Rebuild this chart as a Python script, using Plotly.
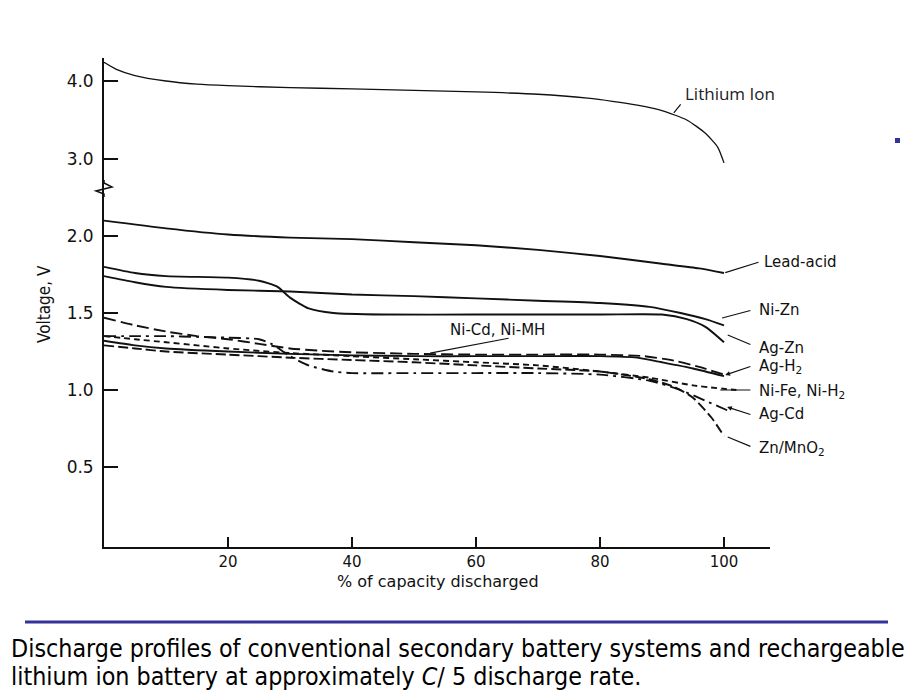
import plotly.graph_objects as go

# ---------------- data ----------------
pct_li = [0, 2, 5, 10, 15, 20, 30, 40, 50, 60, 70, 78, 82, 86, 90, 94, 97, 99, 100]
v_li = [4.24, 4.15, 4.07, 4.00, 3.96, 3.94, 3.915, 3.90, 3.88, 3.86, 3.83, 3.78, 3.74, 3.69, 3.62, 3.50, 3.33, 3.15, 2.95]

pct_pb = [0, 10, 20, 30, 40, 50, 60, 70, 80, 90, 96, 100]
v_pb = [2.10, 2.05, 2.01, 1.99, 1.98, 1.96, 1.94, 1.91, 1.87, 1.82, 1.79, 1.76]

pct_nizn = [0, 5, 10, 20, 30, 40, 50, 60, 70, 80, 88, 93, 97, 100]
v_nizn = [1.74, 1.70, 1.67, 1.65, 1.64, 1.62, 1.61, 1.595, 1.58, 1.565, 1.54, 1.50, 1.46, 1.42]

pct_agzn = [0, 5, 10, 20, 25, 28, 30, 33, 37, 45, 60, 80, 90, 94, 97, 100]
v_agzn = [1.80, 1.76, 1.74, 1.73, 1.71, 1.67, 1.60, 1.53, 1.50, 1.49, 1.49, 1.49, 1.49, 1.46, 1.41, 1.31]

pct_nicd = [0, 5, 10, 20, 30, 40, 50, 60, 70, 80, 86, 90, 95, 100]
v_nicd = [1.32, 1.29, 1.27, 1.25, 1.235, 1.225, 1.22, 1.22, 1.22, 1.22, 1.21, 1.18, 1.14, 1.09]

pct_agh2 = [0, 5, 10, 15, 20, 25, 30, 35, 40, 50, 60, 70, 80, 87, 92, 96, 100]
v_agh2 = [1.47, 1.42, 1.38, 1.35, 1.33, 1.30, 1.27, 1.255, 1.245, 1.235, 1.23, 1.23, 1.23, 1.22, 1.19, 1.15, 1.10]

pct_nife = [0, 5, 10, 15, 20, 30, 40, 50, 60, 70, 80, 88, 95, 102]
v_nife = [1.35, 1.33, 1.31, 1.29, 1.27, 1.24, 1.22, 1.20, 1.18, 1.16, 1.12, 1.08, 1.03, 1.00]

pct_agcd = [0, 5, 10, 15, 20, 25, 27, 30, 33, 37, 40, 50, 60, 70, 80, 88, 93, 97, 101]
v_agcd = [1.35, 1.35, 1.35, 1.345, 1.34, 1.33, 1.30, 1.22, 1.16, 1.12, 1.11, 1.11, 1.11, 1.11, 1.10, 1.06, 1.00, 0.93, 0.86]

pct_zn = [0, 5, 10, 20, 30, 40, 50, 60, 70, 80, 88, 92, 95, 98, 100]
v_zn = [1.29, 1.27, 1.25, 1.23, 1.21, 1.195, 1.18, 1.16, 1.14, 1.12, 1.07, 1.02, 0.95, 0.82, 0.70]

x_ticks = [20, 40, 60, 80, 100]
y_low_ticks = [0.5, 1.0, 1.5, 2.0]
y_high_ticks = [3.0, 4.0]

# ---------------- geometry helpers ----------------
W, H = 920, 690
OFF = 8  # page body margin of the browser
L, R, T, B = 104, 770, 58, 547   # plot area in screen pixels


def px(xp):
    return (xp - L) / (R - L)


def py(yp):
    return (B - yp) / (B - T)


split = py(186)

fig = go.Figure()

line_c = "#111111"
fig.add_trace(go.Scatter(x=pct_li, y=v_li, yaxis="y2", mode="lines",
                         line=dict(color=line_c, width=1.3, shape="spline", smoothing=0.6)))
series = [
    (pct_pb, v_pb, "solid"),
    (pct_nizn, v_nizn, "solid"),
    (pct_agzn, v_agzn, "solid"),
    (pct_nicd, v_nicd, "solid"),
    (pct_agh2, v_agh2, "12px,5px"),
    (pct_nife, v_nife, "6px,4px"),
    (pct_agcd, v_agcd, "12px,5px,3px,5px"),
    (pct_zn, v_zn, "10px,4px"),
]
for xs, ys, d in series:
    fig.add_trace(go.Scatter(x=xs, y=ys, mode="lines",
                             line=dict(color=line_c, width=1.9, dash=d, shape="spline", smoothing=0.6)))

ytick_font = dict(family="DejaVu Sans", size=17, color="#111111")
xtick_font = dict(family="DejaVu Sans", size=15, color="#111111")
lab_font = dict(family="DejaVu Sans", size=15, color="#111111")

fig.update_layout(
    width=W, height=H,
    margin=dict(l=L - OFF, r=W - (R - OFF), t=T - OFF, b=H - (B - OFF), autoexpand=False),
    paper_bgcolor="white", plot_bgcolor="white",
    showlegend=False,
    xaxis=dict(range=[0, (R - L) / 6.2], tickvals=x_ticks, ticks="inside", ticklen=10,
               tickwidth=1.5, tickcolor="#111", showline=True, linecolor="#111", linewidth=1.8,
               showgrid=False, zeroline=False, tickfont=xtick_font, ticklabelstandoff=0),
    yaxis=dict(domain=[0, split], range=[-0.0195, 2.325], tickvals=y_low_ticks,
               ticktext=["0.5", "1.0", "1.5", "2.0"], ticks="inside", ticklen=14, tickwidth=1.5,
               tickcolor="#111", showline=True, linecolor="#111", linewidth=1.8, showgrid=False,
               zeroline=False, tickfont=ytick_font, ticklabelstandoff=5),
    yaxis2=dict(domain=[split, 1], range=[2.654, 4.295], tickvals=y_high_ticks,
                ticktext=["3.0", "4.0"], ticks="inside", ticklen=14, tickwidth=1.5,
                tickcolor="#111", showline=True, linecolor="#111", linewidth=1.8, showgrid=False,
                zeroline=False, tickfont=ytick_font, anchor="x", ticklabelstandoff=5),
)

# leader lines (tip -> tail), data coords
leaders = [
    ("y2", 91.9, 3.59, 93.2, 3.72, 0),
    ("y", 100.2, 1.762, 105.8, 1.833, 0),
    ("y", 99.7, 1.468, 104.5, 1.519, 0),
    ("y", 100.6, 1.357, 104.5, 1.292, 0),
    ("y", 100.2, 1.097, 104.5, 1.156, 2),
    ("y", 99.4, 1.0, 104.5, 1.0, 0),
    ("y", 100.5, 0.89, 104.5, 0.838, 2),
    ("y", 100.6, 0.695, 104.5, 0.63, 0),
    ("y", 52.6, 1.24, 65.5, 1.338, 0),
]
for yr, x0, y0, x1, y1, head in leaders:
    fig.add_annotation(x=x0, y=y0, ax=x1, ay=y1, xref="x", yref=yr, axref="x", ayref=yr,
                       text="", showarrow=True, arrowhead=head, arrowsize=0.8, arrowwidth=1.2,
                       arrowcolor="#111", standoff=0, startstandoff=0)

labels = [
    ("y2", 93.4, 3.846, "Lithium Ion", "left", dict(family="Open Sans", size=17, color="#222")),
    ("y", 106.1, 1.831, "Lead-acid", "left", lab_font),
    ("y", 105.3, 1.519, "Ni-Zn", "left", lab_font),
    ("y", 105.3, 1.275, "Ag-Zn", "left", lab_font),
    ("y", 105.3, 1.150, "Ag-H<sub>2</sub>", "left", lab_font),
    ("y", 105.3, 0.989, "Ni-Fe, Ni-H<sub>2</sub>", "left", lab_font),
    ("y", 105.3, 0.844, "Ag-Cd", "left", lab_font),
    ("y", 105.3, 0.623, "Zn/MnO<sub>2</sub>", "left", lab_font),
    ("y", 63.5, 1.39, "Ni-Cd, Ni-MH", "center", lab_font),
]
for yr, x, y, t, anc, f in labels:
    fig.add_annotation(x=x, y=y, xref="x", yref=yr, text=t, showarrow=False,
                       xanchor=anc, yanchor="middle", font=f)

# axis titles
fig.add_annotation(x=px(438), y=py(581), xref="paper", yref="paper", text="% of capacity discharged",
                   showarrow=False, xanchor="center", yanchor="middle",
                   font=dict(family="DejaVu Sans", size=16, color="#111"))
fig.add_annotation(x=px(32), y=py(304), xref="paper", yref="paper", text="Voltage, V",
                   textangle=-90, showarrow=False,
                   font=dict(family="DejaVu Sans Condensed, Liberation Sans Narrow, Liberation Sans",
                             size=17, color="#111"))

# caption (two lines)
cap_font = dict(family="DejaVu Sans Condensed, Liberation Sans Narrow, Liberation Sans",
                size=24.8, color="#000")
fig.add_annotation(x=px(9), y=py(648), xref="paper", yref="paper", xanchor="left", yanchor="middle",
                   showarrow=False, font=cap_font,
                   text="Discharge profiles of conventional secondary battery systems and rechargeable")
fig.add_annotation(x=px(9), y=py(676), xref="paper", yref="paper", xanchor="left", yanchor="middle",
                   showarrow=False, font=cap_font,
                   text="lithium ion battery at approximately <i>C</i>/ 5 discharge rate.")

# axis break zigzag
zz = [(104, 180), (104, 183), (112, 187), (96, 191), (104, 194), (104, 197)]
path = "M " + " L ".join(f"{px(a)},{py(b)}" for a, b in zz)
fig.add_shape(type="path", path=path, xref="paper", yref="paper",
              line=dict(color="#111", width=1.5))

# separator line and small square
fig.add_shape(type="line", xref="paper", yref="paper", x0=px(25), x1=px(888), y0=py(622), y1=py(622),
              line=dict(color="#333399", width=3))
fig.add_shape(type="rect", xref="paper", yref="paper", x0=px(895), x1=px(900), y0=py(143), y1=py(138),
              line=dict(width=0), fillcolor="#333399")

fig.write_html("out.html")
